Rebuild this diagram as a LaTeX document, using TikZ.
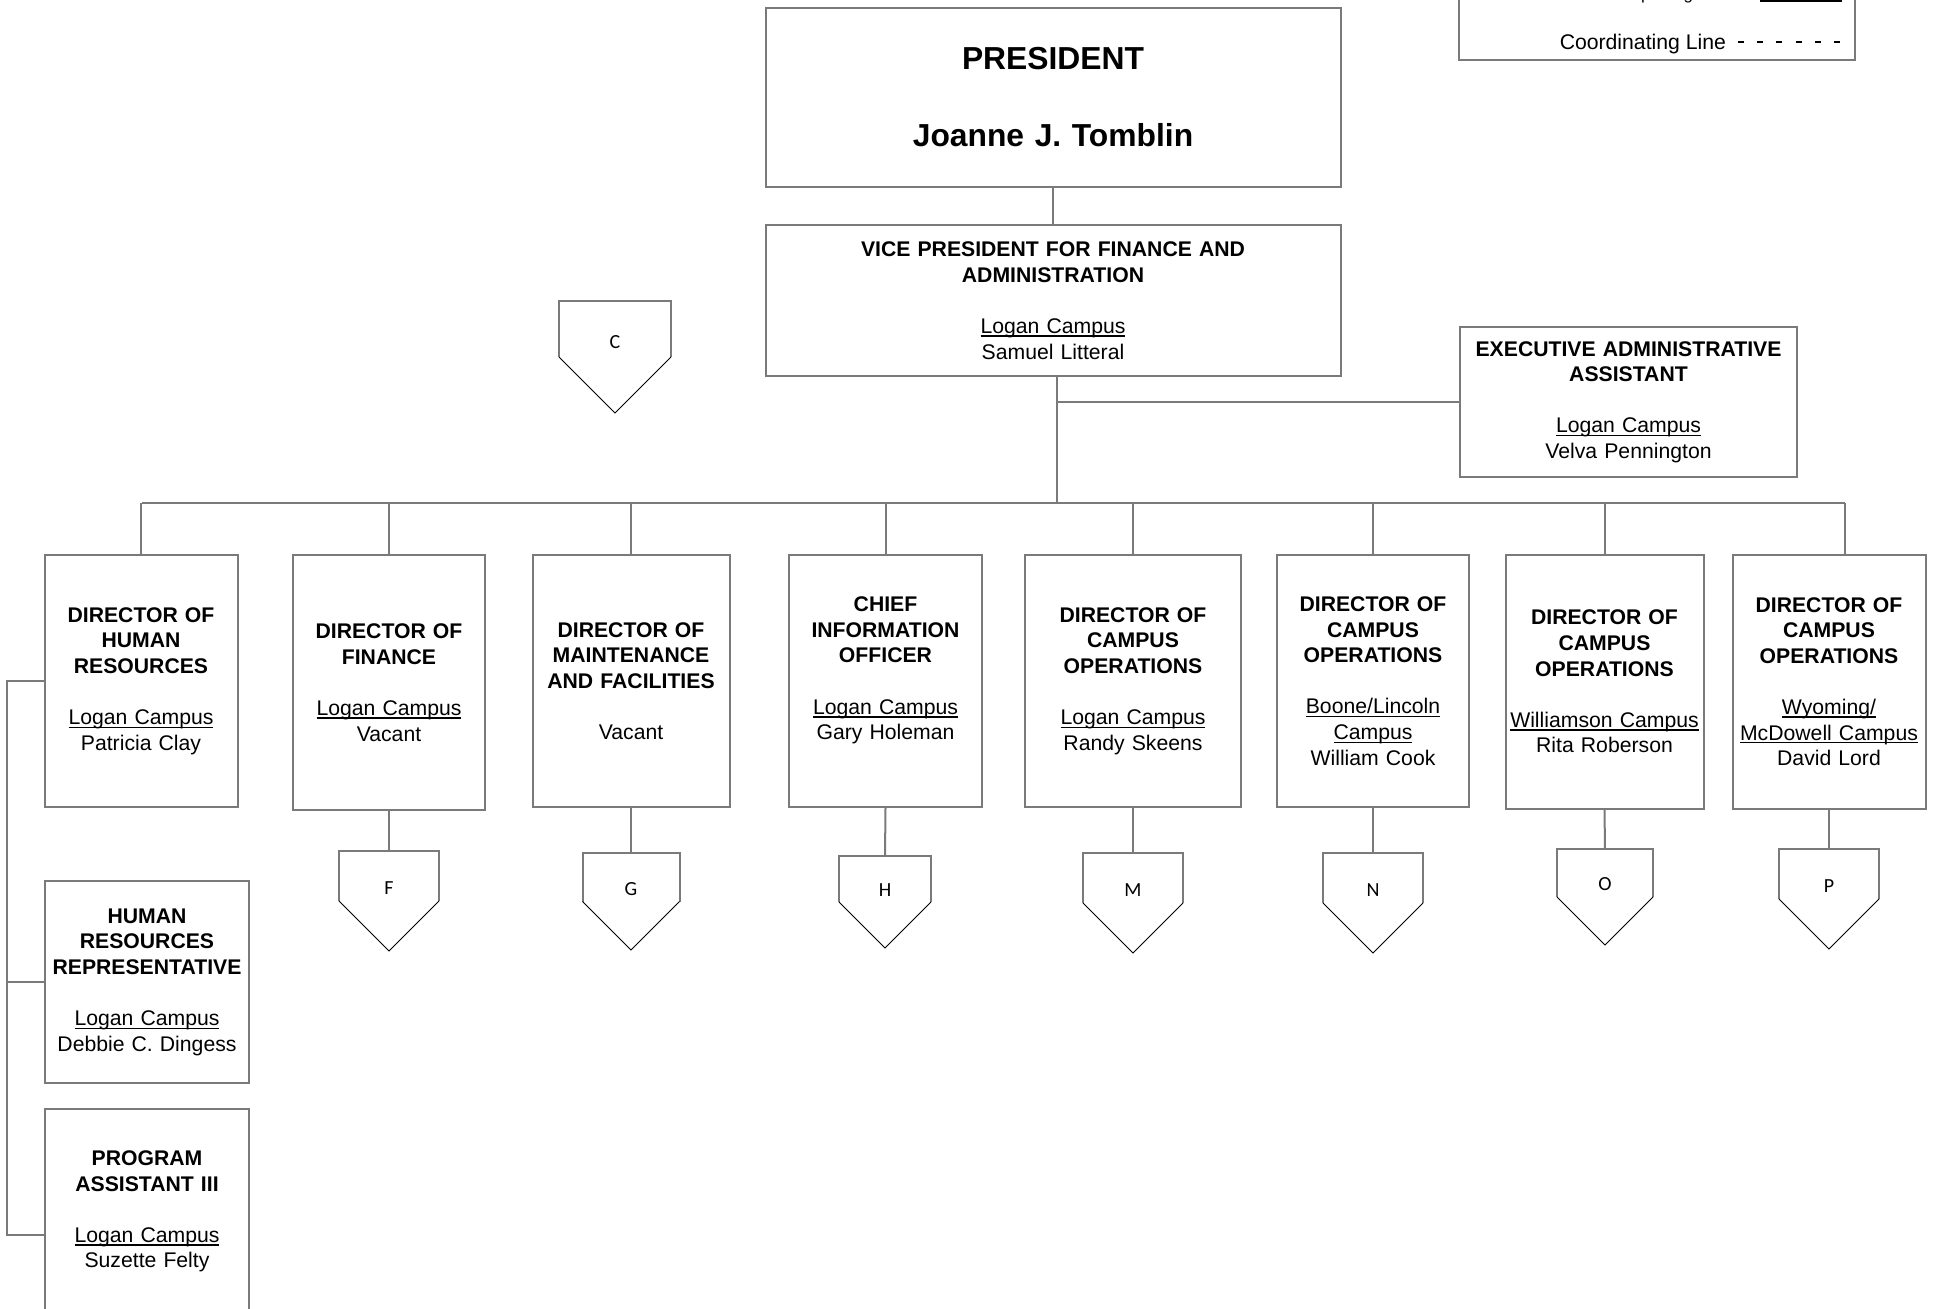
\documentclass[tikz,border=0pt]{standalone}
\usepackage{fontspec}
\setmainfont{Liberation Sans}
\newfontfamily\calibrifont{Carlito}
\usepackage{tikz}

\definecolor{linegray}{HTML}{7A7A7A}

% underline close to the baseline, as in the chart
\newcommand{\campusul}[1]{\leavevmode\setbox0=\hbox{#1}\rlap{\rule[-1.7pt]{\wd0}{0.7pt}}\box0}

\begin{document}
\begin{tikzpicture}[x=0.5pt,y=-0.5pt,
  every node/.style={font=\fontsize{10.6}{12.8}\selectfont},
  post/.style={draw=linegray,line width=1pt,align=center,inner sep=0pt,text width=#1,minimum height=126pt},
  link/.style={draw=linegray,line width=1pt},
  offpage/.style={draw=linegray,line width=1pt},
  offtip/.style={draw=black,line width=0.5pt},
  pagelbl/.style={font=\calibrifont\fontsize{10}{12}\selectfont}]

\useasboundingbox (0,0) rectangle (1939,1308);
\clip (0,0) rectangle (1939,1308);

% Legend
\node[draw=linegray,line width=1pt,minimum width=198pt,minimum height=80pt] (legend) at (1657,-20) {};
\node[anchor=base east,font=\fontsize{8.5}{10}\selectfont] (reptxt) at (1737,-0.5) {Reporting Line};
\node[anchor=base east] (coordtxt) at (1733,49.3) {Coordinating Line};
\draw[black,line width=1pt] (1760,0.5) -- (1842,0.5);
\draw[black,line width=1.3pt,dash pattern=on 3pt off 6.6pt] (1738,42) -- (1842,42);

% Top of the chart
\node[post=287.5pt,minimum height=89.5pt,font=\fontsize{15.9}{19.2}\selectfont\bfseries] (pres) at (1053,97)
  {PRESIDENT\\[19.2pt]Joanne J. Tomblin};
\node[post=287.5pt,minimum height=75.5pt] (vp) at (1053,300.5)
  {\textbf{VICE PRESIDENT FOR FINANCE AND\\ADMINISTRATION}\\[12.8pt]\campusul{Logan Campus}\\Samuel Litteral};
\node[post=168.5pt,minimum height=74.75pt] (ea) at (1628.5,402)
  {\textbf{EXECUTIVE ADMINISTRATIVE\\ASSISTANT}\\[12.8pt]\campusul{Logan Campus}\\Velva Pennington};

% Row of directors
\node[post=96.5pt] (hr) at (141,681)
  {\textbf{DIRECTOR OF\\HUMAN\\RESOURCES}\\[12.8pt]\campusul{Logan Campus}\\Patricia Clay};
\node[post=96pt,minimum height=127.5pt] (fin) at (389,682.5)
  {\textbf{DIRECTOR OF\\FINANCE}\\[12.8pt]\campusul{Logan Campus}\\Vacant};
\node[post=98.5pt] (mnt) at (631,681)
  {\textbf{DIRECTOR OF\\MAINTENANCE\\AND FACILITIES}\\[12.8pt]Vacant};
\node[post=96.5pt] (cio) at (885.5,681)
  {\textbf{CHIEF\\INFORMATION\\OFFICER}\\[12.8pt]\campusul{Logan Campus}\\Gary Holeman\\[-4pt]\strut};
\node[post=108pt] (cpl) at (1133,681)
  {\textbf{DIRECTOR OF\\CAMPUS\\OPERATIONS}\\[12.8pt]\campusul{Logan Campus}\\Randy Skeens};
\node[post=96pt] (cpb) at (1373,681)
  {\textbf{DIRECTOR OF\\CAMPUS\\OPERATIONS}\\[12.8pt]\campusul{Boone/Lincoln}\\\campusul{Campus}\\William Cook};
\node[post=99pt,minimum height=127pt] (cpw) at (1604.5,681.5)
  {\textbf{DIRECTOR OF\\CAMPUS\\OPERATIONS}\\[12.8pt]\campusul{Williamson Campus}\\Rita Roberson};
\node[post=96.5pt,minimum height=127pt] (cpm) at (1829,681.5)
  {\textbf{DIRECTOR OF\\CAMPUS\\OPERATIONS}\\[12.8pt]\campusul{Wyoming/}\\\campusul{McDowell Campus}\\David Lord};

% Human resources staff
\node[post=102pt,minimum height=101pt] (hrr) at (147,982)
  {\textbf{HUMAN\\RESOURCES\\REPRESENTATIVE}\\[12.8pt]\campusul{Logan Campus}\\Debbie C. Dingess};
\node[post=102pt] (pa) at (147,1235)
  {\textbf{PROGRAM\\ASSISTANT III}\\[12.8pt]\campusul{Logan Campus}\\Suzette Felty\\\strut\\[-3.7pt]\strut};

% Off-page connectors
\foreach \nm/\cx/\ty/\w in {C/615/301/112, F/389/851/100, G/631/853/97, H/885/856/92,
                            M/1133/853/100, N/1373/853/100, O/1605/849/96, P/1829/849/100} {
  \draw[offpage] ({\cx-\w/2},{\ty+\w/2}) -- ({\cx-\w/2},\ty) -- ({\cx+\w/2},\ty) -- ({\cx+\w/2},{\ty+\w/2});
  \draw[offtip] ({\cx-\w/2},{\ty+\w/2}) -- (\cx,{\ty+\w}) -- ({\cx+\w/2},{\ty+\w/2});
  \node[pagelbl] (pg\nm) at (\cx,{\ty+0.37*\w}) {\nm};
  \coordinate (top\nm) at (\cx,\ty);
}

% Reporting lines
\coordinate (busL) at (142,503);
\coordinate (busR) at (1845,503);
\coordinate (vptrunk) at ([xshift=2pt]vp.south);
\draw[link] (pres.south) -- (vp.north);
\draw[link] (vptrunk) -- (vptrunk |- busL);
\draw[link] (ea.west) -- (ea.west -| vptrunk);
\draw[link] (busL) -- (busR);
\foreach \b in {hr,fin,mnt,cio,cpl,cpb,cpw}
  \draw[link] (\b.north) -- (\b.north |- busL);
\draw[link] (busR) -- (busR |- cpm.north);

\draw[link] (fin.south) -- (topF);
\draw[link] (mnt.south) -- (topG);
\draw[link] (cio.south) -- (topH);
\draw[link] (cpl.south) -- (topM);
\draw[link] (cpb.south) -- (topN);
\draw[link] (cpw.south) -- (topO);
\draw[link] (cpm.south) -- (topP);

\coordinate (hrbar) at (7,681);
\draw[link] (hr.west) -- (hrbar) |- (pa.west);
\draw[link] (hrr.west) -- (hrr.west -| hrbar);

\end{tikzpicture}
\end{document}
